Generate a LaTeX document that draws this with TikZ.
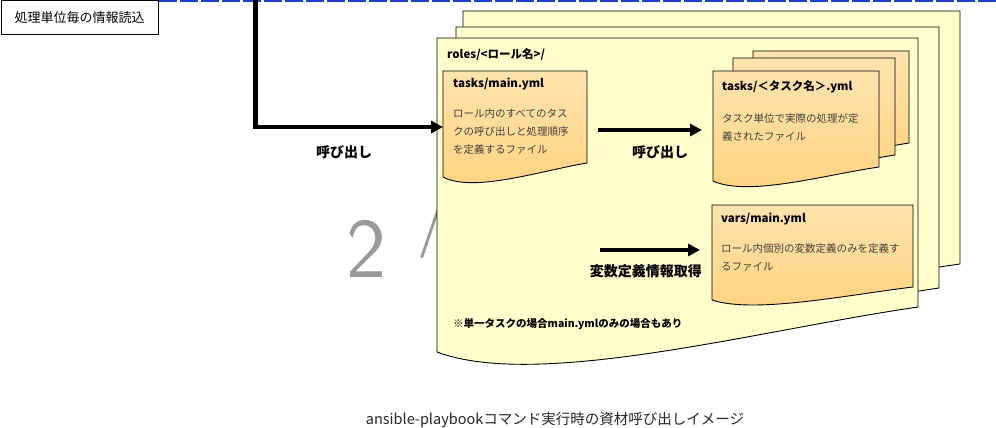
\documentclass[tikz,border=0pt]{standalone}
\usepackage{fontspec}
\setmainfont{Noto Sans CJK JP}
\usepackage{tikz}
\usetikzlibrary{arrows.meta, positioning, calc}
\definecolor{mpage}{HTML}{FFFFCC}
\definecolor{mdoctop}{HTML}{FFE3AE}
\definecolor{mdocbot}{HTML}{FFD27E}
\definecolor{mdash}{HTML}{1F3FD0}
\definecolor{mtext}{HTML}{404040}
\definecolor{mnum}{HTML}{9A9A9A}
\tikzset{
  docbox/.style={draw=none, inner sep=0pt, outer sep=0pt, anchor=north west},
  pagefill/.style={draw=black, line width=0.9pt, fill=mpage},
  docfill/.style={draw=black, line width=0.9pt, top color=mdoctop, bottom color=mdocbot},
  bigarr/.style={-{Triangle[length=12pt, width=12pt]}, line width=4.5pt, black},
  doctitle/.style={font=\fontsize{11.5pt}{13pt}\selectfont\bfseries, inner sep=0pt},
  docbody/.style={font=\fontsize{10.5pt}{18pt}\selectfont, text=mtext, align=left,
                  inner sep=0pt, anchor=north west},
}
% page outline with a wavy lower edge, drawn round a placeholder node
\newcommand{\docwave}[5]{%
  \path[#2] (#1.north west) -- (#1.north east) -- (#1.south east)
    .. controls ($(#1.south west)!0.67!(#1.south east)+(0,#5)$)
    and ($(#1.south west)!0.21!(#1.south east)+(0,#3+#4)$)
    .. ($(#1.south west)+(0,#3)$) -- cycle;}

\begin{document}
\begin{tikzpicture}[x=1pt, y=-1pt,
   infobox/.style={draw=black, line width=0.9pt, inner sep=0pt, anchor=north west,
                   minimum width=157.5pt, minimum height=33.5pt,
                   font=\fontsize{13pt}{15pt}\selectfont},
   dashline/.style={mdash, line width=2pt, dash pattern=on 18pt off 3pt},
   lbl/.style={font=\fontsize{14pt}{16pt}\selectfont\bfseries, inner sep=0pt},
   note/.style={font=\fontsize{10.5pt}{12pt}\selectfont\bfseries, inner sep=0pt},
   captxt/.style={font=\fontsize{14.5pt}{16pt}\selectfont, text=black!85, inner sep=0pt},
   pagenum/.style={font=\sffamily\fontsize{85pt}{85pt}\selectfont, text=mnum, inner sep=0pt}]
  \useasboundingbox (0,0) rectangle (996,428);

  % large page number behind the stack
  \node[pagenum, anchor=base west] (pnum) at (346,277) {2\hspace{30pt}\raisebox{40pt}{/}};

  % roles/<name>/ stack
  \node[docbox, minimum width=497pt, minimum height=253pt] (rolesC) at (463,11) {};
  \docwave{rolesC}{pagefill}{45}{38}{23}
  \node[docbox, minimum width=483pt, minimum height=261pt] (rolesB) at (456,27) {};
  \docwave{rolesB}{pagefill}{45}{38}{23}
  \node[docbox, minimum width=481pt, minimum height=269pt] (rolesA) at (437,38) {};
  \docwave{rolesA}{pagefill}{45}{38}{23}
  \node[doctitle, anchor=west] (rolesA-title) at ([shift={(10,17)}]rolesA.north west) {roles/<ロール名>/};

  % tasks/main.yml
  \node[docbox, minimum width=144pt, minimum height=92pt] (mainyml) at (443,71) {};
  \docwave{mainyml}{docfill}{14}{16}{8}
  \node[doctitle, anchor=west] (mainyml-title) at ([shift={(10,13)}]mainyml.north west) {tasks/main.yml};
  \node[docbody] (mainyml-body) at ([shift={(10,37)}]mainyml.north west)
    {ロール内のすべてのタス\\クの呼び出しと処理順序\\を定義するファイル};

  % tasks/<task>.yml stack
  \node[docbox, minimum width=156pt, minimum height=92pt] (taskC) at (753,51) {};
  \docwave{taskC}{docfill}{14}{16}{8}
  \node[docbox, minimum width=162pt, minimum height=97pt] (taskB) at (733,58) {};
  \docwave{taskB}{docfill}{14}{16}{8}
  \node[docbox, minimum width=166pt, minimum height=96pt] (taskA) at (713,71) {};
  \docwave{taskA}{docfill}{14}{16}{8}
  \node[doctitle, anchor=west] (taskA-title) at ([shift={(9,16)}]taskA.north west) {tasks/＜タスク名＞.yml};
  \node[docbody] (taskA-body) at ([shift={(9,42)}]taskA.north west)
    {タスク単位で実際の処理が定\\義されたファイル};

  % vars/main.yml
  \node[docbox, minimum width=201pt, minimum height=82pt] (varsyml) at (712,205) {};
  \docwave{varsyml}{docfill}{13}{14}{8}
  \node[doctitle, anchor=west] (varsyml-title) at ([shift={(9,14)}]varsyml.north west) {vars/main.yml};
  \node[docbody] (varsyml-body) at ([shift={(9,38)}]varsyml.north west)
    {ロール内個別の変数定義のみを定義す\\るファイル};

  \node[note, anchor=west] (single) at (453,324) {※単一タスクの場合main.ymlのみの場合もあり};

  % info box and dashed top line
  \node[infobox] (readinfo) at (0.5,0.5) {処理単位毎の情報読込};
  \draw[dashline] (readinfo.north east |- 0,1) -- (996,1);

  % connectors
  \coordinate (src) at (255.5,0);
  \coordinate (varsrc) at (600,250);
  \draw[bigarr] (src) |- ([yshift=-10pt]mainyml.west);
  \draw[bigarr, shorten <=11pt, shorten >=11pt] ([yshift=-13pt]mainyml.east) -- ([yshift=-11pt]taskA.west);
  \draw[bigarr, shorten >=12pt] (varsrc) -- ([yshift=-4pt]varsyml.west);

  \node[lbl] (call1) at (344,152) {呼び出し};
  \node[lbl] (call2) at (660,152) {呼び出し};
  \node[lbl, anchor=east] (getvars) at (702,271) {変数定義情報取得};

  \node[captxt] (cap) at (555,420) {ansible-playbookコマンド実行時の資材呼び出しイメージ};
\end{tikzpicture}
\end{document}
